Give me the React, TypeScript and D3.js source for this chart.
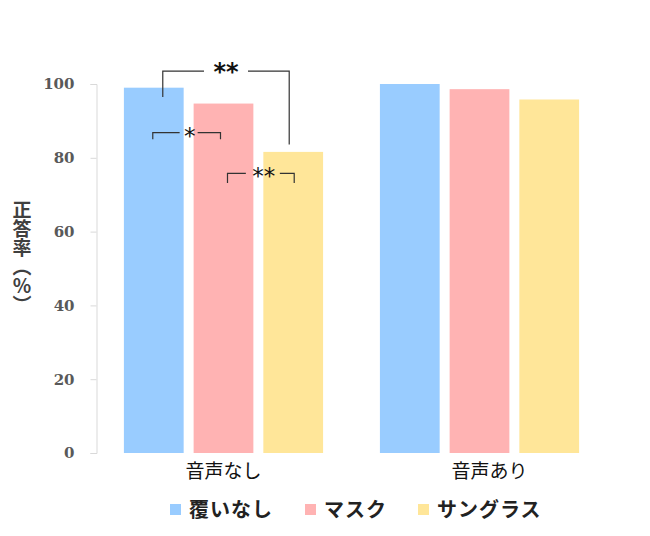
// @ts-nocheck
import React, { useRef, useEffect } from "react";
import * as d3 from "d3";

// chart data
const groups = ["音声なし", "音声あり"];
const seriesNames = ["覆いなし", "マスク", "サングラス"];
const seriesColors = ["#99CCFF", "#FFB3B3", "#FFE699"];
const valuesNone = [99.0, 94.7, 81.6];
const valuesVoice = [100.0, 98.6, 95.8];
const yTicks = [0, 20, 40, 60, 80, 100];

// significance brackets (group 0): bars, x offsets, bracket level, label
const brackets = [
  { from: 0, to: 2, dxa: 9, dxb: -4, level: 103.5, drop1: 96.5, drop2: 83.6, label: "**", big: true },
  { from: 0, to: 1, dxa: -1, dxb: -3, level: 86.8, drop1: 85, drop2: 85, label: "*", big: false },
  { from: 1, to: 2, dxa: 4, dxb: 1, level: 75.8, drop1: 73.2, drop2: 73.2, label: "**", big: false },
];

const FONT = "'Noto Sans CJK JP', 'Noto Sans', sans-serif";

const Chart = ({ width = 650, height = 536 }) => {
  const svgRef = useRef(null);

  useEffect(() => {
    const svg = d3.select(svgRef.current);
    svg.selectAll("*").remove();

    const marginLeft = 96,
      marginRight = 43,
      marginTop = 84,
      marginBottom = 83;

    const data = groups.map((g, i) => ({
      group: g,
      values: i === 0 ? valuesNone : valuesVoice,
    }));

    const x0 = d3
      .scaleBand()
      .domain(groups)
      .range([marginLeft, width - marginRight])
      .paddingInner(0.222)
      .paddingOuter(0.109);

    const x1 = d3
      .scaleBand()
      .domain(seriesNames)
      .range([0, x0.bandwidth()])
      .paddingInner(0.143)
      .paddingOuter(0);

    const y = d3
      .scaleLinear()
      .domain([0, 100])
      .range([height - marginBottom, marginTop]);

    // bars
    svg
      .append("g")
      .selectAll("g")
      .data(data)
      .join("g")
      .attr("transform", (d) => `translate(${x0(d.group)},0)`)
      .selectAll("rect")
      .data((d) => d.values.map((v, i) => ({ key: seriesNames[i], v, i })))
      .join("rect")
      .attr("x", (d) => x1(d.key))
      .attr("y", (d) => y(d.v))
      .attr("width", x1.bandwidth())
      .attr("height", (d) => y(0) - y(d.v))
      .attr("fill", (d) => seriesColors[d.i]);

    // y axis
    svg
      .append("g")
      .attr("transform", `translate(${marginLeft + 0.5},0)`)
      .call(d3.axisLeft(y).tickValues(yTicks).tickSize(6).tickPadding(16))
      .call((g) => g.select(".domain").attr("stroke", "#d9d9d9"))
      .call((g) => g.selectAll(".tick line").attr("stroke", "#d9d9d9"))
      .call((g) =>
        g
          .selectAll(".tick text")
          .attr("fill", "#595959")
          .attr("font-size", 15)
          .attr("font-weight", "bold")
          .attr("font-family", "'DejaVu Serif', serif")
      );

    // y title
    svg
      .append("text")
      .attr("x", 22)
      .attr("y", 257)
      .attr("writing-mode", "vertical-rl")
      .attr("text-anchor", "middle")
      .attr("font-family", FONT)
      .attr("font-size", 19)
      .attr("font-weight", "bold")
      .attr("fill", "#404040")
      .text("正答率（％）");

    // x labels
    svg
      .append("g")
      .selectAll("text")
      .data(groups)
      .join("text")
      .attr("x", (d) => x0(d) + x0.bandwidth() / 2 + (d === groups[1] ? 10 : 0))
      .attr("y", 478)
      .attr("text-anchor", "middle")
      .attr("font-family", FONT)
      .attr("font-size", 19)
      .attr("fill", "#111")
      .text((d) => d);

    // brackets
    const gx = x0(groups[0]);
    const bx = (i, side) => gx + x1(seriesNames[i]) + x1.bandwidth() / 2 + side;
    const ann = svg.append("g").attr("fill", "none").attr("stroke", "#333").attr("stroke-width", 1.2);
    brackets.forEach((b) => {
      const xa = bx(b.from, b.dxa);
      const xb = bx(b.to, b.dxb);
      const yl = y(b.level);
      const mid = (xa + xb) / 2 + (b.big ? 0 : 3);
      const gap = b.big ? 22 : b.label.length * 8 + 2;
      const path = d3.path();
      path.moveTo(xa, y(b.drop1));
      path.lineTo(xa, yl);
      path.lineTo(mid - gap, yl);
      path.moveTo(mid + gap - (b.big ? 0 : 2), yl);
      path.lineTo(xb, yl);
      path.lineTo(xb, y(b.drop2));
      ann.append("path").attr("d", path.toString());
      svg
        .append("text")
        .attr("x", mid)
        .attr("y", yl + (b.big ? 9 : 11))
        .attr("text-anchor", "middle")
        .attr("font-family", "'DejaVu Sans', sans-serif")
        .attr("font-weight", b.big ? "bold" : "normal")
        .attr("font-size", b.big ? 24 : 23)
        .attr("fill", "#111")
        .text(b.label);
    });

    // legend
    const legendX = [170, 305, 418];
    const legend = svg
      .append("g")
      .selectAll("g")
      .data(seriesNames)
      .join("g")
      .attr("transform", (d, i) => `translate(${legendX[i]},504)`);
    legend
      .append("rect")
      .attr("width", 11)
      .attr("height", 11)
      .attr("fill", (d, i) => seriesColors[i]);
    legend
      .append("text")
      .attr("x", 19)
      .attr("y", 13)
      .attr("font-family", FONT)
      .attr("font-size", 20)
      .attr("font-weight", "bold")
      .attr("letter-spacing", 1)
      .attr("fill", "#222")
      .text((d) => d);
  }, [width, height]);

  return (
    <svg
      ref={svgRef}
      width={width}
      height={height}
      style={{ position: "absolute", left: 0, top: 0, background: "#fff" }}
    ></svg>
  );
};

export default function App() {
  return <Chart />;
}
